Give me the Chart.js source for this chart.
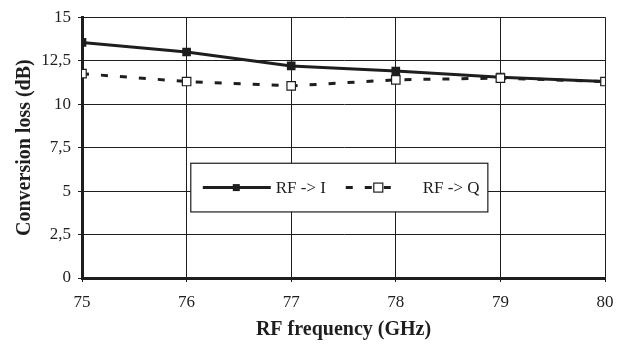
<!DOCTYPE html>
<html>
<head>
<meta charset="utf-8">
<script src="https://cdn.jsdelivr.net/npm/chart.js@4/dist/chart.umd.min.js"></script>
<style>
  html, body { margin: 0; padding: 0; background: #fff; }
  #wrap { width: 627px; height: 344px; }
</style>
</head>
<body>
<div id="wrap"><canvas id="lossChart" width="627" height="344"></canvas></div>
<script>
// data
const freqs = [75, 76, 77, 78, 79, 80];
const rfToI = [13.55, 13.0, 12.2, 11.9, 11.55, 11.3];
const rfToQ = [11.75, 11.3, 11.05, 11.4, 11.5, 11.3];
const seriesNames = ['RF -> I', 'RF -> Q'];
const yTicks = [0, 2.5, 5, 7.5, 10, 12.5, 15];

const INK = '#1e1e1e';
const FONT = "'Liberation Serif', 'Times New Roman', serif";

const toPts = (ys) => freqs.map((x, i) => ({ x, y: ys[i] }));

// legend box drawn inside the plot, like the original
const boxLegend = {
  id: 'boxLegend',
  afterDraw(chart) {
    const { ctx } = chart;
    const xs = chart.scales.x, ys = chart.scales.y;
    const left = xs.getPixelForValue(76.04), right = xs.getPixelForValue(78.88);
    const top = ys.getPixelForValue(6.6), bottom = ys.getPixelForValue(3.8);
    const cy = (top + bottom) / 2;
    ctx.save();
    ctx.fillStyle = '#fff';
    ctx.fillRect(left, top, right - left, bottom - top);
    ctx.strokeStyle = INK;
    ctx.lineWidth = 1.2;
    ctx.strokeRect(left, top, right - left, bottom - top);

    // RF -> I sample
    ctx.lineWidth = 3;
    ctx.beginPath(); ctx.moveTo(left + 12, cy); ctx.lineTo(left + 80, cy); ctx.stroke();
    ctx.fillStyle = INK;
    ctx.fillRect(left + 42, cy - 3.5, 7, 7);

    // RF -> Q sample
    ctx.setLineDash([7, 12]);
    ctx.beginPath(); ctx.moveTo(left + 155, cy); ctx.lineTo(left + 212, cy); ctx.stroke();
    ctx.setLineDash([]);
    ctx.fillStyle = '#fff';
    ctx.lineWidth = 1.2;
    ctx.fillRect(left + 183, cy - 4.5, 9, 9);
    ctx.strokeRect(left + 183, cy - 4.5, 9, 9);

    ctx.fillStyle = INK;
    ctx.font = '17px ' + FONT;
    ctx.textBaseline = 'middle';
    ctx.fillText(seriesNames[0], left + 85, cy + 1);
    ctx.fillText(seriesNames[1], left + 232, cy + 1);
    ctx.restore();
  }
};

new Chart(document.getElementById('lossChart'), {
  type: 'line',
  data: {
    datasets: [
      {
        label: seriesNames[0],
        data: toPts(rfToI),
        order: 2,
        borderColor: INK,
        borderWidth: 3,
        pointStyle: 'rect',
        pointRadius: 4,
        pointBackgroundColor: INK,
        pointBorderColor: INK,
        tension: 0
      },
      {
        label: seriesNames[1],
        data: toPts(rfToQ),
        order: 1,
        borderColor: INK,
        borderWidth: 3,
        borderDash: [7, 12],
        pointStyle: 'rect',
        pointRadius: 6,
        pointBackgroundColor: '#fff',
        pointBorderColor: INK,
        pointBorderWidth: 1.2,
        tension: 0
      }
    ]
  },
  options: {
    responsive: false,
    animation: false,
    layout: { padding: { top: 16, right: 22, bottom: 0, left: 11 } },
    plugins: { legend: { display: false }, tooltip: { enabled: false } },
    scales: {
      x: {
        type: 'linear',
        min: 75, max: 80,
        afterFit: (s) => { s.height = 66; },
        ticks: { stepSize: 1, color: INK, font: { family: FONT, size: 17 }, padding: 10 },
        grid: { color: INK, lineWidth: 1, tickLength: 4 },
        border: { color: INK, width: 3 },
        title: {
          display: true, text: 'RF frequency (GHz)', color: INK,
          font: { family: FONT, size: 20, weight: 'bold' }, padding: { top: 4, bottom: 2 }
        }
      },
      y: {
        min: 0, max: 15,
        afterFit: (s) => { s.width = 71; },
        afterBuildTicks: (s) => { s.ticks = yTicks.map(v => ({ value: v })); },
        ticks: {
          color: INK, font: { family: FONT, size: 17 }, padding: 7,
          callback: (v) => String(v).replace('.', ',')
        },
        grid: { color: INK, lineWidth: 1, tickLength: 4 },
        border: { color: INK, width: 3 },
        title: {
          display: true, text: 'Conversion loss (dB)', color: INK,
          font: { family: FONT, size: 20, weight: 'bold' }, padding: { top: 2, bottom: 4 }
        }
      }
    }
  },
  plugins: [boxLegend]
});
</script>
</body>
</html>
